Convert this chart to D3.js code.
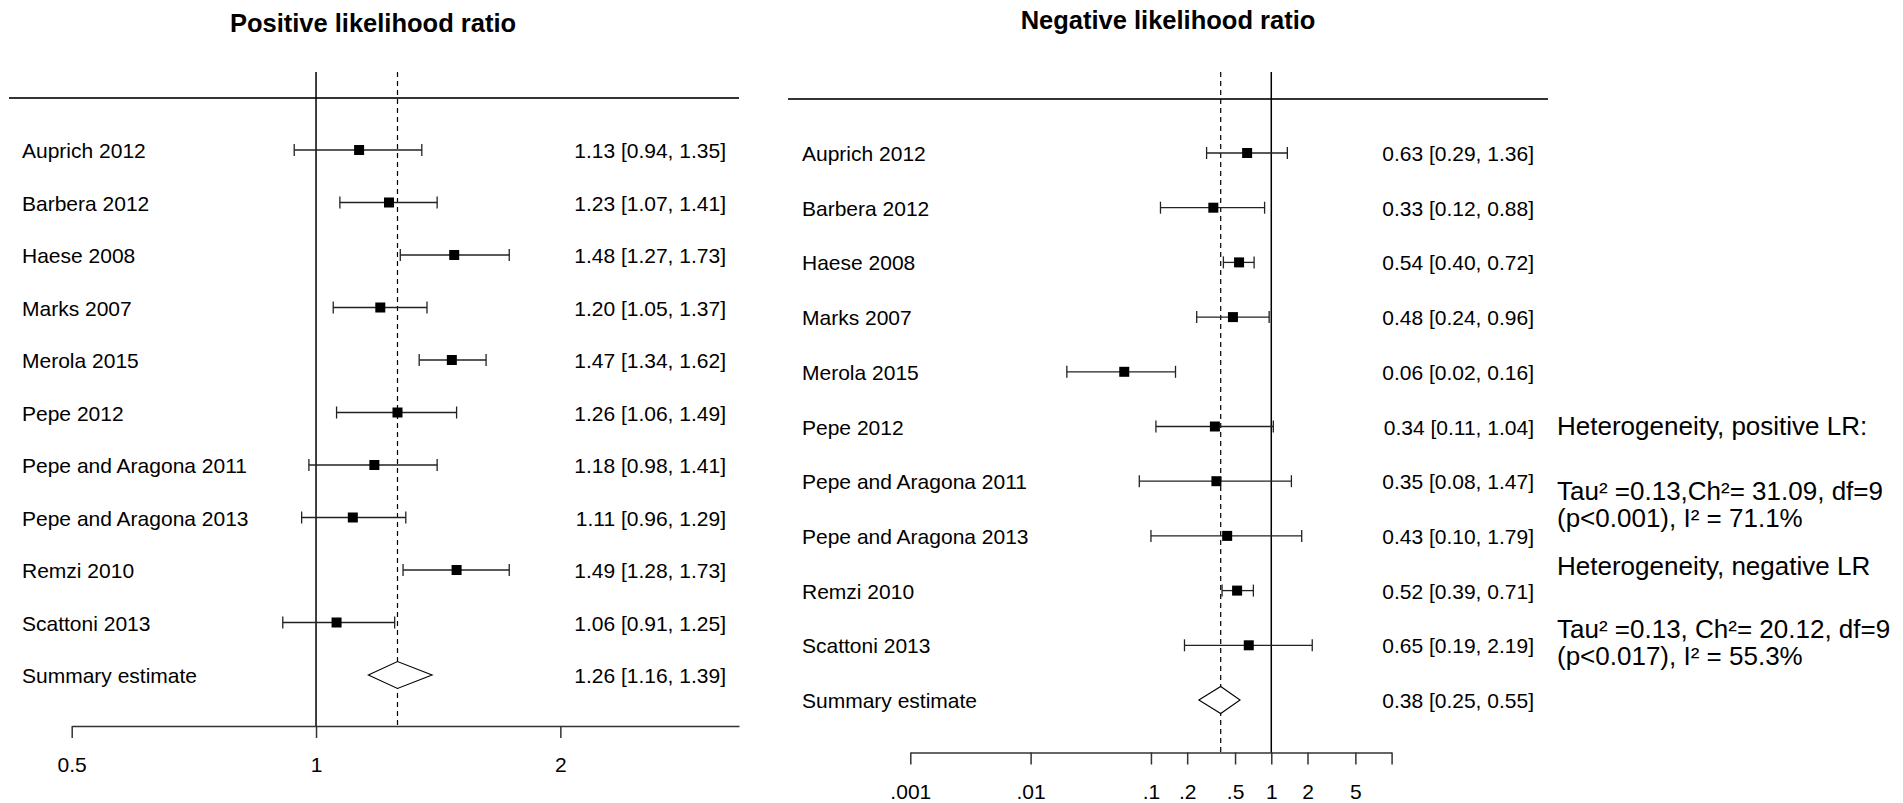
<!DOCTYPE html>
<html>
<head>
<meta charset="utf-8">
<script src="https://cdn.jsdelivr.net/npm/d3@7"></script>
<style>
  body { margin: 0; background: #fff; }
  text { font-family: "Liberation Sans", Arial, sans-serif; fill: #000; }
</style>
</head>
<body>
<script>
// study names, same order in both panels
var studies = ["Auprich 2012", "Barbera 2012", "Haese 2008", "Marks 2007", "Merola 2015",
  "Pepe 2012", "Pepe and Aragona 2011", "Pepe and Aragona 2013", "Remzi 2010", "Scattoni 2013"];

// positive likelihood ratio
var plrEst  = [1.13, 1.23, 1.48, 1.20, 1.47, 1.26, 1.18, 1.11, 1.49, 1.06];
var plrLow  = [0.94, 1.07, 1.27, 1.05, 1.34, 1.06, 0.98, 0.96, 1.28, 0.91];
var plrHigh = [1.35, 1.41, 1.73, 1.37, 1.62, 1.49, 1.41, 1.29, 1.73, 1.25];
var plrSummary = [1.26, 1.16, 1.39];

// negative likelihood ratio
var nlrEst  = [0.63, 0.33, 0.54, 0.48, 0.06, 0.34, 0.35, 0.43, 0.52, 0.65];
var nlrLow  = [0.29, 0.12, 0.40, 0.24, 0.02, 0.11, 0.08, 0.10, 0.39, 0.19];
var nlrHigh = [1.36, 0.88, 0.72, 0.96, 0.16, 1.04, 1.47, 1.79, 0.71, 2.19];
var nlrSummary = [0.38, 0.25, 0.55];

// axis ticks
var plrTicks = [0.5, 1, 2];
var plrTickLabels = ["0.5", "1", "2"];
var nlrTicks = [0.001, 0.01, 0.1, 0.2, 0.5, 1, 2, 5, 10];
var nlrTickLabels = [".001", ".01", ".1", ".2", ".5", "1", "2", "5", ""];

// heterogeneity notes
var hetText = [
  "Heterogeneity, positive LR:",
  "Tau² =0.13,Ch²= 31.09, df=9",
  "(p<0.001), I² = 71.1%",
  "Heterogeneity, negative LR",
  "Tau² =0.13, Ch²= 20.12, df=9",
  "(p<0.017), I² = 55.3%"
];

var svg_width = 1903;
var svg_height = 803;
var fs = 21;

var svg = d3.select("body").append("svg")
  .attr("width", svg_width)
  .attr("height", svg_height);

var f2 = d3.format(".2f");

function drawPanel(o) {
  var g = svg.append("g");

  var x = d3.scaleLog().domain(o.domain).range(o.range);
  var y = d3.scaleLinear().domain([0, studies.length]).range(o.rows);

  // title
  g.append("text")
    .attr("x", o.titleX)
    .attr("y", o.titleY)
    .attr("text-anchor", "middle")
    .style("font-size", "25.5px")
    .style("font-weight", "bold")
    .text(o.title);

  // header rule
  g.append("line")
    .attr("x1", o.ruleX[0]).attr("x2", o.ruleX[1])
    .attr("y1", o.ruleY).attr("y2", o.ruleY)
    .attr("stroke", "#333").attr("stroke-width", 1.8);

  // axis
  var axis = d3.axisBottom(x)
    .tickValues(o.ticks)
    .tickFormat(function(d, i) { return o.tickLabels[i]; })
    .tickSize(12)
    .tickSizeOuter(0);

  var ax = g.append("g")
    .attr("transform", "translate(0," + o.axisY + ")")
    .call(axis);
  ax.select(".domain").attr("stroke", "#333").attr("stroke-width", 1.5);
  ax.selectAll(".tick line").attr("stroke", "#333").attr("stroke-width", 1.5);
  ax.selectAll(".tick text")
    .attr("y", 46).attr("dy", 0)
    .style("font-size", fs + "px")
    .style("font-family", "'Liberation Sans', Arial, sans-serif")
    .attr("fill", "#000");

  // line of no effect
  g.append("line")
    .attr("x1", x(1)).attr("x2", x(1))
    .attr("y1", 72).attr("y2", o.axisY)
    .attr("stroke", "#000").attr("stroke-width", 1.5);

  // summary estimate line
  g.append("line")
    .attr("x1", x(o.summary[0])).attr("x2", x(o.summary[0]))
    .attr("y1", 72).attr("y2", o.axisY)
    .attr("stroke", "#000").attr("stroke-width", 1.2)
    .attr("stroke-dasharray", "5,4");

  var rows = studies.map(function(s, i) {
    return { name: s, est: o.est[i], low: o.low[i], high: o.high[i], i: i };
  });

  // study labels
  g.selectAll(".lab")
    .data(rows.concat([{ name: "Summary estimate", i: studies.length }]))
    .enter().append("text")
    .attr("x", o.labelX)
    .attr("y", function(d) { return y(d.i) + 8; })
    .style("font-size", fs + "px")
    .text(function(d) { return d.name; });

  // value column
  var vals = rows.map(function(d) { return [d.est, d.low, d.high, d.i]; });
  vals.push([o.summary[0], o.summary[1], o.summary[2], studies.length]);
  g.selectAll(".val")
    .data(vals)
    .enter().append("text")
    .attr("x", o.valueX)
    .attr("y", function(d) { return y(d[3]) + 8; })
    .attr("text-anchor", "end")
    .style("font-size", fs + "px")
    .text(function(d) { return f2(d[0]) + " [" + f2(d[1]) + ", " + f2(d[2]) + "]"; });

  // confidence intervals
  var ci = g.selectAll(".ci").data(rows).enter().append("g");
  ci.append("line")
    .attr("x1", function(d) { return x(d.low); })
    .attr("x2", function(d) { return x(d.high); })
    .attr("y1", function(d) { return y(d.i); })
    .attr("y2", function(d) { return y(d.i); })
    .attr("stroke", "#222").attr("stroke-width", 1.3);
  ci.append("line")
    .attr("x1", function(d) { return x(d.low); })
    .attr("x2", function(d) { return x(d.low); })
    .attr("y1", function(d) { return y(d.i) - 6; })
    .attr("y2", function(d) { return y(d.i) + 6; })
    .attr("stroke", "#222").attr("stroke-width", 1.3);
  ci.append("line")
    .attr("x1", function(d) { return x(d.high); })
    .attr("x2", function(d) { return x(d.high); })
    .attr("y1", function(d) { return y(d.i) - 6; })
    .attr("y2", function(d) { return y(d.i) + 6; })
    .attr("stroke", "#222").attr("stroke-width", 1.3);
  ci.append("rect")
    .attr("x", function(d) { return x(d.est) - 5; })
    .attr("y", function(d) { return y(d.i) - 5; })
    .attr("width", 10).attr("height", 10)
    .attr("fill", "#000");

  // summary diamond
  var sy = y(studies.length);
  g.append("path")
    .attr("d", "M" + x(o.summary[1]) + "," + sy +
      "L" + x(o.summary[0]) + "," + (sy - 13.5) +
      "L" + x(o.summary[2]) + "," + sy +
      "L" + x(o.summary[0]) + "," + (sy + 13.5) + "Z")
    .attr("fill", "#fff")
    .attr("stroke", "#000").attr("stroke-width", 1.1);
}

drawPanel({
  title: "Positive likelihood ratio", titleX: 373, titleY: 32,
  est: plrEst, low: plrLow, high: plrHigh, summary: plrSummary,
  domain: [0.5, 3.32], range: [71.7, 739],
  ticks: plrTicks, tickLabels: plrTickLabels,
  rows: [150, 675], axisY: 726,
  ruleX: [9, 739], ruleY: 98,
  labelX: 22, valueX: 726
});

drawPanel({
  title: "Negative likelihood ratio", titleX: 1168, titleY: 29,
  est: nlrEst, low: nlrLow, high: nlrHigh, summary: nlrSummary,
  domain: [0.001, 10], range: [910.3, 1391.6],
  ticks: nlrTicks, tickLabels: nlrTickLabels,
  rows: [153, 700], axisY: 752.5,
  ruleX: [788, 1548], ruleY: 99,
  labelX: 802, valueX: 1534
});

// heterogeneity notes on the right
var hetY = [435, 500, 527, 575, 638, 665];
svg.selectAll(".het")
  .data(hetText)
  .enter().append("text")
  .attr("x", 1557)
  .attr("y", function(d, k) { return hetY[k]; })
  .style("font-size", "26px")
  .text(function(d) { return d; });
</script>
</body>
</html>
